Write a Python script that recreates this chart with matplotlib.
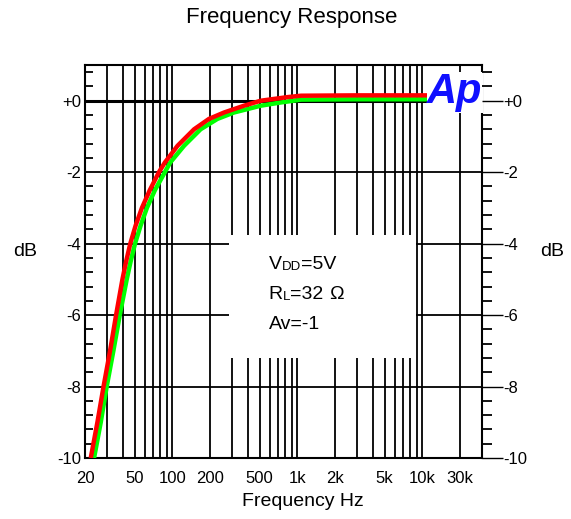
import matplotlib.pyplot as plt
from matplotlib.ticker import FixedLocator, FixedFormatter, MultipleLocator
from matplotlib.patches import Rectangle

# Datos: frecuencia (Hz) y nivel (dB)
frec_roja = [22.2, 25.1, 28.1, 31.7, 35.4, 39.8, 42.6, 46, 50.7, 57, 66, 78,
             87, 110, 149, 196, 259, 374, 509, 830, 1070, 3000, 10000, 30000]
db_roja = [-10, -9, -8, -7, -6, -5, -4.5, -4, -3.5, -3, -2.5, -2, -1.73,
           -1.26, -0.8, -0.51, -0.33, -0.14, 0, 0.1, 0.14, 0.15, 0.15, 0.15]

frec_verde = [23.6, 26.7, 29.8, 33.7, 37.9, 43.1, 46.3, 50.2, 55.6, 62.5,
              72.5, 87, 96, 124, 168, 229, 311, 509, 735, 1070, 3000, 10000,
              30000]
db_verde = [-10, -9, -8, -7, -6, -5, -4.5, -4, -3.5, -3, -2.5, -2, -1.73,
            -1.26, -0.8, -0.51, -0.33, -0.14, -0.05, 0.03, 0.04, 0.04, 0.04]

x_ticks = [20, 50, 100, 200, 500, 1000, 2000, 5000, 10000, 20000]
x_etiquetas = ['20', '50', '100', '200', '500', '1k', '2k', '5k', '10k', '30k']
x_menores = [30, 40, 60, 70, 80, 90, 300, 400, 600, 700, 800, 900,
             3000, 4000, 6000, 7000, 8000, 9000]
y_ticks = [-10, -8, -6, -4, -2, 0]
y_etiquetas = ['-10', '-8', '-6', '-4', '-2', '+0']

plt.rcParams['font.family'] = ['Liberation Sans', 'DejaVu Sans']

fig = plt.figure(figsize=(5.71, 5.19), dpi=100)
ax = fig.add_axes([0.149, 0.1175, 0.695, 0.7573])
ax.set_xscale('log')
ax.set_xlim(20, 30000)
ax.set_ylim(-10, 1)

# Rejilla
ax.xaxis.set_major_locator(FixedLocator(x_ticks))
ax.xaxis.set_major_formatter(FixedFormatter(x_etiquetas))
ax.xaxis.set_minor_locator(FixedLocator(x_menores))
ax.xaxis.set_minor_formatter(FixedFormatter([''] * len(x_menores)))
ax.tick_params(axis='x', which='both', length=0, pad=9, labelsize=12)
ax.grid(True, which='both', axis='x', color='black', lw=1.3)
ax.grid(True, which='major', axis='y', color='black', lw=1.3)
ax.axhline(0, color='black', lw=2.2, zorder=1)

# Eje izquierdo
ax.yaxis.set_major_locator(FixedLocator(y_ticks))
ax.yaxis.set_major_formatter(FixedFormatter(y_etiquetas))
ax.yaxis.set_minor_locator(MultipleLocator(0.4))
ax.tick_params(axis='y', which='major', length=0, pad=3, labelsize=12)
ax.tick_params(axis='y', which='minor', direction='in', length=6, width=1.3)

# Eje derecho
ax2 = ax.twinx()
ax2.set_ylim(-10, 1)
ax2.yaxis.set_major_locator(FixedLocator(y_ticks))
ax2.yaxis.set_major_formatter(FixedFormatter(y_etiquetas))
ax2.yaxis.set_minor_locator(MultipleLocator(0.4))
ax2.tick_params(axis='y', which='major', direction='out', length=15,
                width=1, pad=0, labelsize=12)
ax2.tick_params(axis='y', which='minor', direction='out', length=7, width=1.3)

for lado in ['left', 'right', 'top', 'bottom']:
    ax.spines[lado].set_linewidth(1.5)
    ax2.spines[lado].set_visible(False)

# Recuadro blanco con las condiciones
ax.add_patch(Rectangle((285, -7.2), 8900 - 285, 3.45, facecolor='white',
                       edgecolor='none', zorder=2))

# Curvas
ax.plot(frec_verde, db_verde, color='#00ff00', lw=3.2, zorder=3,
        solid_capstyle='butt', solid_joinstyle='round')
ax.plot(frec_roja, db_roja, color='#ff0000', lw=3.2, zorder=3,
        solid_capstyle='butt', solid_joinstyle='round')


def texto_partes(x, y, partes):
    t = ax.text(x, y, partes[0][0], fontsize=partes[0][1], zorder=5)
    for s, tam in partes[1:]:
        t = ax.annotate(s, xy=(1, 0), xycoords=t, fontsize=tam,
                        va='bottom', ha='left', zorder=5)


texto_partes(590, -4.7, [('V', 14), ('DD', 9.5), ('=5V', 14)])
texto_partes(590, -5.55, [('R', 14), ('L', 9.5), ('=32 ', 14), ('Ω', 14)])
texto_partes(590, -6.4, [('Av=-1', 14)])

# Logo
ax.text(0.862, 0.93, 'Ap', transform=ax.transAxes, fontsize=30,
        fontweight='bold', fontstyle='italic', color='#1010ff',
        ha='left', va='center', zorder=6,
        bbox=dict(facecolor='white', edgecolor='none', pad=0.3))

# Textos
fig.text(292 / 571, 1 - 18 / 519, 'Frequency Response', fontsize=16,
         ha='center', va='center')
fig.text(303 / 571, 1 - 501 / 519, 'Frequency Hz', fontsize=14,
         ha='center', va='center')
fig.text(25 / 571, 1 - 251 / 519, 'dB', fontsize=14, ha='center', va='center')
fig.text(552 / 571, 1 - 251 / 519, 'dB', fontsize=14, ha='center', va='center')

fig.savefig('out.png', dpi=100)
